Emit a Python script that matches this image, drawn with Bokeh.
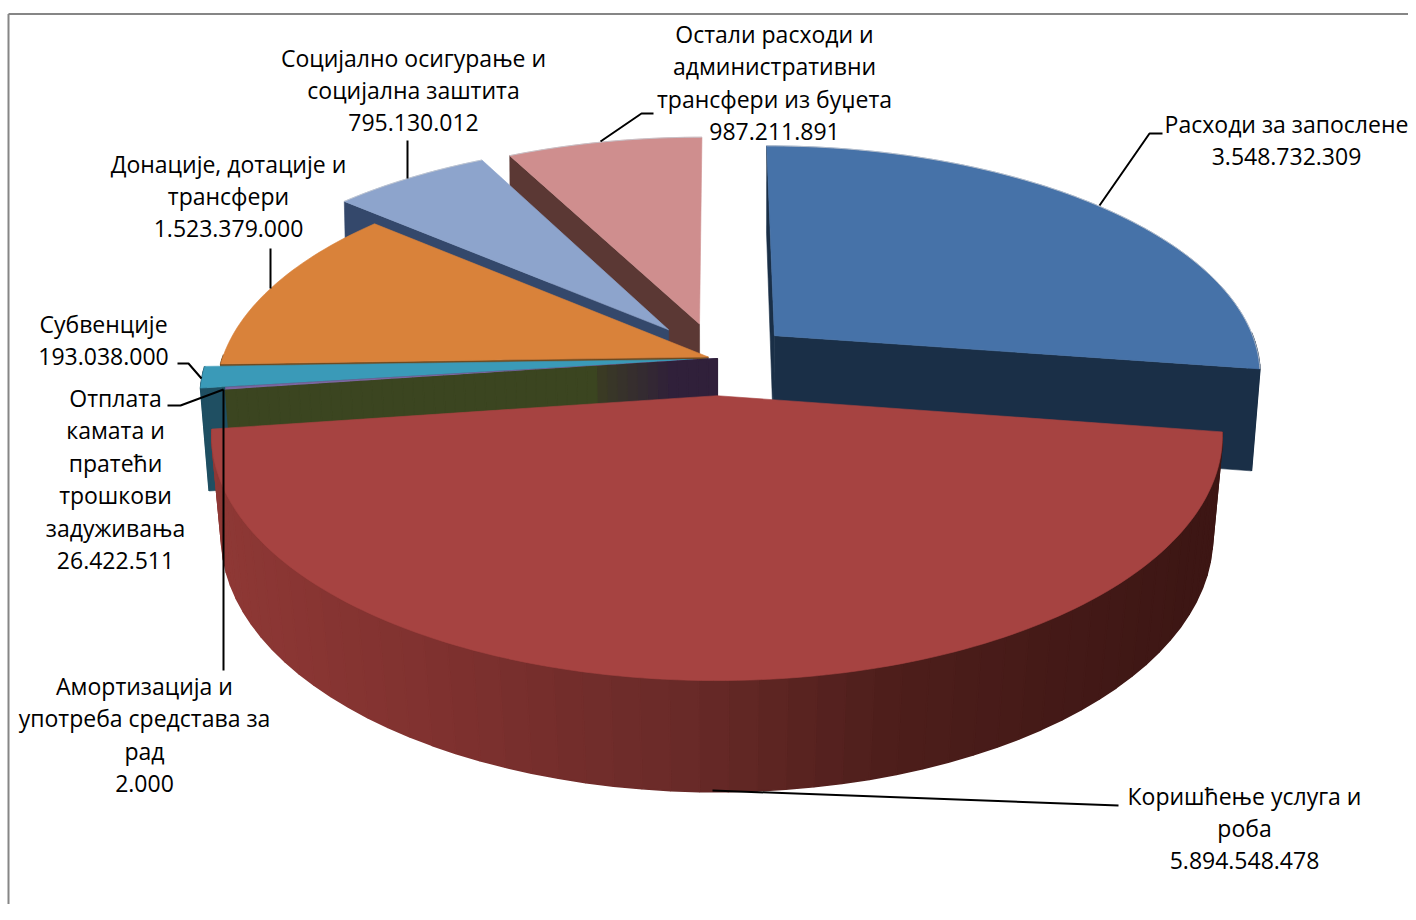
import math
from bokeh.plotting import figure
from bokeh.models import Range1d
from bokeh.core.properties import value
from bokeh.embed import file_html
from bokeh.resources import INLINE

categories = ["Расходи за запослене", "Коришћење услуга и роба", "Амортизација и употреба средстава за рад",
              "Отплата камата и пратећи трошкови задуживања", "Субвенције", "Донације, дотације и трансфери",
              "Социјално осигурање и социјална заштита", "Остали расходи и административни трансфери из буџета"]
amounts = [3548732309, 5894548478, 2000, 26422511, 193038000, 1523379000, 795130012, 987211891]
amount_labels = ["3.548.732.309", "5.894.548.478", "2.000", "26.422.511", "193.038.000", "1.523.379.000", "795.130.012", "987.211.891"]

# style per slice
explode = [.157, .16, 0, 0, .05, .02, .165, .16]
top_col = ["#4672a8", "#a64341", "#3b4520", "#7b66a0", "#3a9ab8", "#d9823a", "#8da4cc", "#cf8e8e"]
wall_col = ["#1a2f47", "#8e3835", "#3b4520", "#30203a", "#1f4f62", "#6e4a20", "#34486b", "#5b3834"]
FONT = "Open Sans"
FS = "23px"

CX, CY, RX, RY, K, K_LOW, D, SHR = 717, 358, 486, 226.6, .1585, .145, 103, .985

def project(u, v, low=False):
    if low:
        s = SHR / (1 - K_LOW * v)
        return CX + RX * u * s, CY + (RY * v + D) * s
    s = 1 / (1 - K * v)
    return CX + RX * u * s, CY + RY * v * s

total = sum(amounts)
starts, a = [], 0.0
for x in amounts:
    starts.append(a)
    a += x / total * 2 * math.pi

def slice_geom(i):
    a0 = starts[i]
    a1 = a0 + amounts[i] / total * 2 * math.pi
    m = (a0 + a1) / 2
    ou, ov = explode[i] * math.sin(m), -explode[i] * math.cos(m)
    return a0, a1, ou, ov

def arc_pts(a0, a1, ou, ov, low=False):
    n = max(2, int((a1 - a0) / 0.02))
    return [project(ou + math.sin(a0 + (a1 - a0) * t / n), ov - math.cos(a0 + (a1 - a0) * t / n), low) for t in range(n + 1)]

def hexblend(c1, c2, t):
    r = [int(c1[j:j + 2], 16) * (1 - t) + int(c2[j:j + 2], 16) * t for j in (1, 3, 5)]
    return "#%02x%02x%02x" % tuple(int(round(v)) for v in r)

p = figure(width=1408, height=904, x_range=Range1d(0, 1408), y_range=Range1d(904, 0),
           output_backend="svg", toolbar_location=None, min_border=0, outline_line_color=None,
           background_fill_color="white", border_fill_color="white")
p.axis.visible = False
p.grid.visible = False

def poly(pts, col, lw=0.6):
    p.patch([q[0] for q in pts], [q[1] for q in pts], fill_color=col, line_color=col, line_width=lw)

def radial_wall(i, ang, col):
    a0, a1, ou, ov = slice_geom(i)
    ap, ap_l = project(ou, ov), project(ou, ov, True)
    e, e_l = project(ou + math.sin(ang), ov - math.cos(ang)), project(ou + math.sin(ang), ov - math.cos(ang), True)
    poly([ap, e, e_l, ap_l], col)

def outer_wall(i, col_fn, step=0.02):
    a0, a1, ou, ov = slice_geom(i)
    n = max(2, int((a1 - a0) / step))
    for t in range(n):
        b0, b1 = a0 + (a1 - a0) * t / n, a0 + (a1 - a0) * (t + 1) / n
        if math.cos((b0 + b1) / 2) > 0.02:
            continue
        q0 = project(ou + math.sin(b0), ov - math.cos(b0))
        q1 = project(ou + math.sin(b1), ov - math.cos(b1))
        q2 = project(ou + math.sin(b1), ov - math.cos(b1), True)
        q3 = project(ou + math.sin(b0), ov - math.cos(b0), True)
        poly([q0, q1, q2, q3], col_fn(q0[0]), lw=1.6)

def top(i, bevel=False):
    a0, a1, ou, ov = slice_geom(i)
    arc = arc_pts(a0, a1, ou, ov)
    poly([project(ou, ov)] + arc, top_col[i])
    if bevel:
        p.line([q[0] for q in arc], [q[1] for q in arc], line_color="#c4c8d0", line_width=1.0, line_alpha=0.8)

# frame
p.line([8, 8], [904, 13.5], line_color="#868686", line_width=2)
p.line([8, 1408], [13.5, 13.5], line_color="#868686", line_width=2)

# back slices
radial_wall(7, starts[7], wall_col[7])
top(7, True)
radial_wall(6, starts[6], wall_col[6])
top(6, True)
radial_wall(5, starts[5], wall_col[5])
outer_wall(5, lambda x: wall_col[5])
top(5)
# blue
radial_wall(0, 0.0, wall_col[0])
outer_wall(0, lambda x: wall_col[0])
radial_wall(0, starts[1], wall_col[0])
top(0, True)
# small slices
radial_wall(4, starts[4], wall_col[4])
outer_wall(4, lambda x: wall_col[4])
top(4)
top(3)
# olive -> purple radial wall
ang = starts[2]
sx, sc = math.sin(ang), -math.cos(ang)
NSEG = 48
for t in range(NSEG):
    f0, f1 = t / NSEG, (t + 1) / NSEG
    a_, b_ = project(sx * f0, sc * f0), project(sx * f1, sc * f1)
    c_, d_ = project(sx * f1, sc * f1, True), project(sx * f0, sc * f0, True)
    xm = (a_[0] + b_[0]) / 2
    if xm > 600:
        w = min(1, (xm - 600) / 70)
        col = hexblend("#3a3a24", wall_col[3], w)
    else:
        col = wall_col[2]
    poly([a_, b_, c_, d_], col, lw=1.2)
# red
STOPS = [(220, "#8e3835"), (450, "#7f312f"), (700, "#692a28"), (900, "#4e1e1b"), (1200, "#3d1614")]
def red_col(x):
    if x <= STOPS[0][0]:
        return STOPS[0][1]
    for (x0, c0), (x1, c1) in zip(STOPS, STOPS[1:]):
        if x <= x1:
            return hexblend(c0, c1, (x - x0) / (x1 - x0))
    return STOPS[-1][1]
outer_wall(1, red_col, step=0.05)
top(1)

# leaders
leaders = [([1162, 1149, 1099], [133, 133, 205]),
           ([1118, 712], [805, 790]),
           ([223, 223], [670, 389]),
           ([167, 180, 223], [405, 405, 389]),
           ([177, 188, 201], [363, 363, 378]),
           ([270, 270], [248, 288]),
           ([407, 407], [140, 178]),
           ([653, 641, 600], [113, 113, 141])]
for xs, ys in leaders:
    p.line(xs, ys, line_color="black", line_width=2)

def cat_lines(i, *cuts):
    words = categories[i].split(" ")
    out, k = [], 0
    for c in cuts:
        out.append(" ".join(words[k:k + c]))
        k += c
    return out + [amount_labels[i]]

labels = [(1286, 123, cat_lines(0, 3)),
          (1244, 795, cat_lines(1, 3, 1)),
          (144, 685, cat_lines(2, 2, 3, 1)),
          (115, 397, cat_lines(3, 1, 2, 1, 1, 1)),
          (103, 323, cat_lines(4, 1)),
          (228, 163, cat_lines(5, 3, 1)),
          (413, 57, cat_lines(6, 3, 3)),
          (774, 33, cat_lines(7, 3, 1, 3))]
LH = 32.5
for x, y, lines in labels:
    p.text([x] * len(lines), [y + LH * j for j in range(len(lines))], text=lines,
           text_align="center", text_baseline="middle", text_font=value(FONT),
           text_font_size=value(FS), text_color="#000000")

open("out.html", "w").write(file_html(p, INLINE))
